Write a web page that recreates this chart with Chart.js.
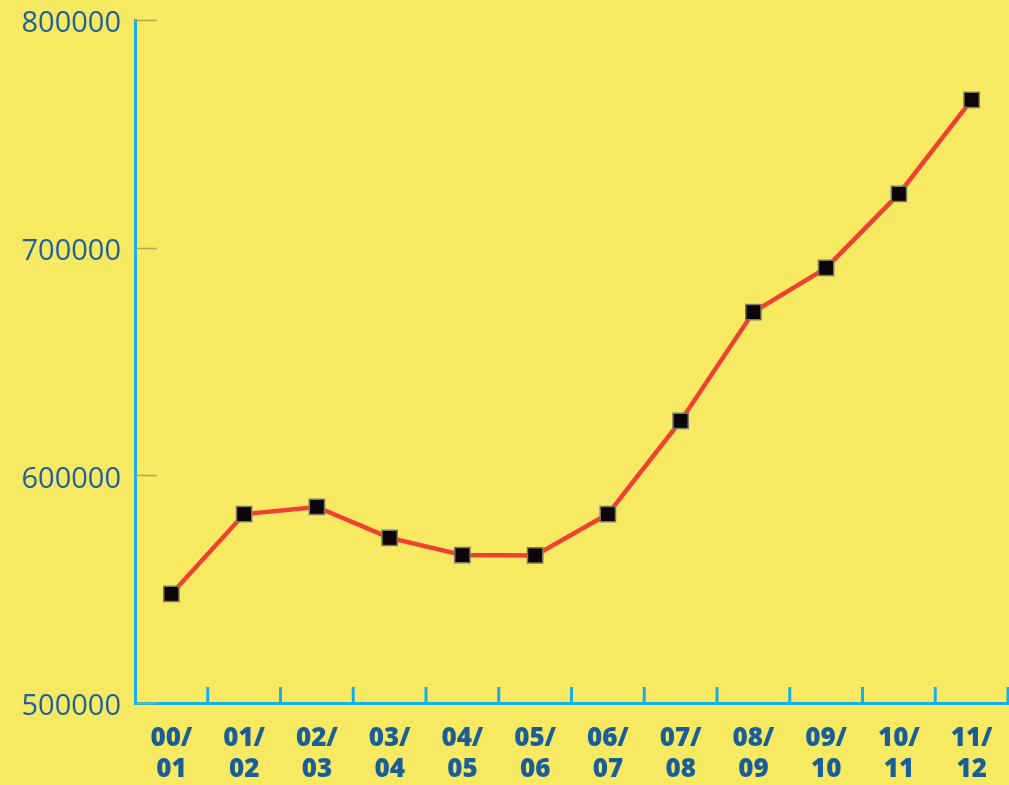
<!DOCTYPE html>
<html>
<head>
<meta charset="utf-8">
<script src="https://cdn.jsdelivr.net/npm/chart.js@4.4.1/dist/chart.umd.min.js"></script>
<style>
  html, body { margin: 0; padding: 0; background: #f8e963; }
  #wrap { width: 1009px; height: 785px; }
</style>
</head>
<body>
<div id="wrap"><canvas id="c" width="1009" height="785"></canvas></div>
<script>
const categories = [['00/','01'],['01/','02'],['02/','03'],['03/','04'],['04/','05'],['05/','06'],
                    ['06/','07'],['07/','08'],['08/','09'],['09/','10'],['10/','11'],['11/','12']];
const values = [547900, 583000, 586100, 572500, 565000, 564800, 583000, 623900, 671700, 691100, 723600, 764900];
const yTicks = [500000, 600000, 700000, 800000];

const innerTicks = {
  id: 'innerTicks',
  afterDatasetsDraw(chart) {
    const ctx = chart.ctx;
    const x = chart.scales.x, y = chart.scales.y;
    const area = chart.chartArea;
    ctx.save();
    ctx.strokeStyle = '#b3a64a';
    ctx.lineWidth = 1.5;
    yTicks.forEach(v => {
      const py = Math.round(y.getPixelForValue(v)) + 0.5;
      ctx.beginPath();
      ctx.moveTo(area.left, py);
      ctx.lineTo(area.left + 22, py);
      ctx.stroke();
    });
    ctx.strokeStyle = '#12afe8';
    ctx.lineWidth = 3;
    const n = categories.length;
    const step = x.getPixelForValue(1) - x.getPixelForValue(0);
    for (let i = 1; i <= n; i++) {
      const px = x.getPixelForValue(i - 1) + step / 2;
      ctx.beginPath();
      ctx.moveTo(px, area.bottom);
      ctx.lineTo(px, area.bottom - 16);
      ctx.stroke();
    }
    ctx.restore();
  }
};

const bg = {
  id: 'bg',
  beforeDraw(chart) {
    const ctx = chart.ctx;
    ctx.save();
    ctx.fillStyle = '#f8e963';
    ctx.fillRect(0, 0, chart.width, chart.height);
    ctx.restore();
  }
};

new Chart(document.getElementById('c'), {
  type: 'line',
  data: {
    labels: categories,
    datasets: [{
      data: values,
      borderColor: '#ee4131',
      borderWidth: 4.5,
      tension: 0,
      pointStyle: 'rect',
      pointRadius: 10.8,
      pointHoverRadius: 10.8,
      pointBackgroundColor: '#0d0508',
      pointBorderColor: '#7b7a68',
      pointBorderWidth: 1.5,
      clip: false
    }]
  },
  options: {
    responsive: false,
    animation: false,
    devicePixelRatio: 1,
    layout: { autoPadding: false, padding: { top: 20, right: 1, left: 0, bottom: 0 } },
    plugins: { legend: { display: false }, tooltip: { enabled: false } },
    scales: {
      x: {
        type: 'category',
        offset: true,
        grid: { display: false, drawTicks: false },
        border: { display: true, color: '#12afe8', width: 3 },
        ticks: {
          color: '#1a5e98',
          font: { family: 'Open Sans', size: 26, weight: 800, lineHeight: 1.2 },
          padding: 20,
          maxRotation: 0,
          autoSkip: false
        },
        afterFit(scale) { scale.height = 82; scale.paddingLeft = 0; scale.paddingRight = 0; }
      },
      y: {
        min: 500000,
        max: 800000,
        grid: { display: false, drawTicks: false },
        border: { display: true, color: '#12afe8', width: 3 },
        ticks: {
          stepSize: 100000,
          color: '#1f5f9a',
          font: { family: 'Open Sans', size: 29 },
          padding: 14,
          labelOffset: 4,
          callback: v => String(v)
        },
        afterFit(scale) { scale.width = 135; scale.paddingTop = 0; scale.paddingBottom = 0; }
      }
    }
  },
  plugins: [bg, innerTicks]
});
</script>
</body>
</html>
